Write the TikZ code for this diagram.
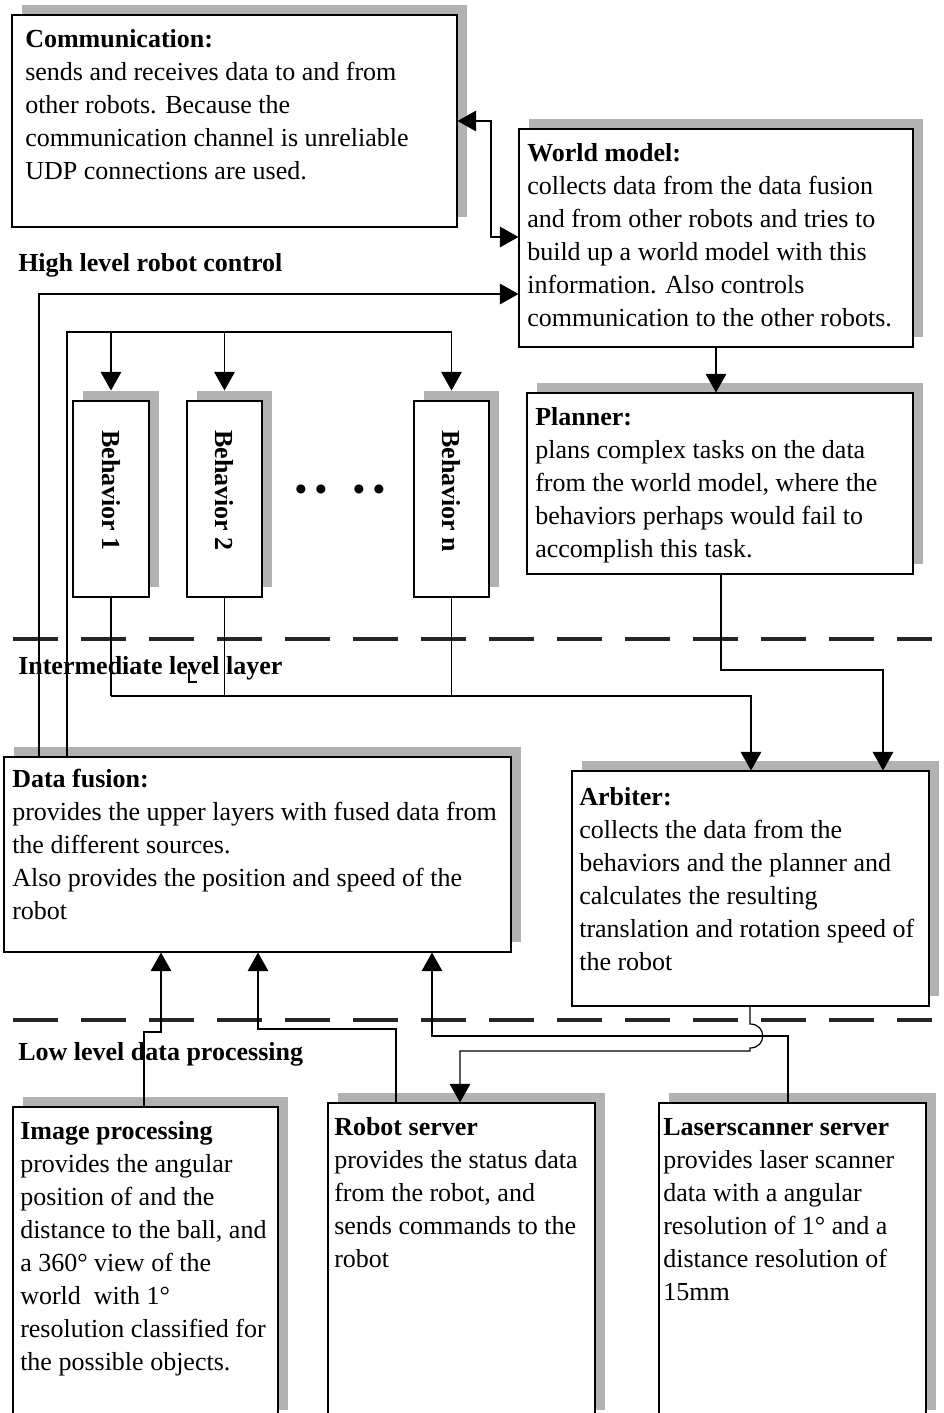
\documentclass[tikz,border=0pt]{standalone}
\usepackage{fontspec}
\setmainfont{Liberation Serif}
\usetikzlibrary{arrows.meta,fit,shadows}
\begin{document}
\begin{tikzpicture}[x=0.75pt,y=-0.75pt,
  box/.style={draw=black, line width=0.8pt, fill=white, inner sep=0pt,
    general shadow={fill=black!30, shadow xshift=7.5pt, shadow yshift=7.5pt}},
  txt/.style={inner sep=0pt, align=left, anchor=north west, font=\fontsize{19.5}{24.75}\selectfont},
  lbl/.style={inner sep=0pt, anchor=base west, font=\fontsize{19.5}{24.75}\selectfont\bfseries},
  vlbl/.style={inner sep=0pt, anchor=west, rotate=-90, font=\fontsize{19.5}{24.75}\selectfont\bfseries},
  dotlbl/.style={inner sep=0pt, font=\fontsize{25}{30}\selectfont\bfseries},
  con/.style={line width=0.9pt},
  sep/.style={line width=3pt, draw=black!85, dash pattern=on 33.75pt off 17.25pt},
  >={Triangle[length=14pt,width=15.5pt]}]
\useasboundingbox (0,0) rectangle (944,1413);
\clip (0,0) rectangle (944,1413);

% layer separators
\draw[sep] (13,639) -- (932,639);
\draw[sep] (13,1020) -- (932,1020);

% boxes
\node[box, fit={(12,15)(457,227)}] (comm) {};
\node[box, fit={(519,129)(913,347)}] (world) {};
\node[box, fit={(527,393)(913,574)}] (planner) {};
\node[box, fit={(73,401)(149,597)}] (b1) {};
\node[box, fit={(187,401)(262,597)}] (b2) {};
\node[box, fit={(414,401)(489,597)}] (bn) {};
\node[box, fit={(4,757)(511,952)}] (fusion) {};
\node[box, fit={(572,771)(929,1006)}] (arbiter) {};
\node[box, fit={(13,1107)(278,1420)}] (image) {};
\node[box, fit={(328,1103)(595,1420)}] (robot) {};
\node[box, fit={(659,1103)(926,1420)}] (laser) {};

% texts
\node[txt] (commt) at (25,24) {\strut\textbf{Communication:}\\sends and receives data to and from\\other robots. Because the\\communication channel is unreliable\\UDP connections are used.};
\node[txt] (worldt) at (527,138) {\strut\textbf{World model:}\\collects data from the data fusion\\and from other robots and tries to\\build up a world model with this\\information. Also controls\\communication to the other robots.};
\node[txt] (plannert) at (535,402) {\strut\textbf{Planner:}\\plans complex tasks on the data\\from the world model, where the\\behaviors perhaps would fail to\\accomplish this task.};
\node[txt] (fusiont) at (12,764) {\strut\textbf{Data fusion:}\\provides the upper layers with fused data from\\the different sources.\\Also provides the position and speed of the\\robot};
\node[txt] (arbitert) at (579,782) {\strut\textbf{Arbiter:}\\collects the data from the\\behaviors and the planner and\\calculates the resulting\\translation and rotation speed of\\the robot};
\node[txt] (imaget) at (20,1116) {\strut\textbf{Image processing}\\provides the angular\\position of and the\\distance to the ball, and\\a 360° view of the\\world\ \ with 1°\\resolution classified for\\the possible objects.};
\node[txt] (robott) at (334,1112) {\strut\textbf{Robot server}\\provides the status data\\from the robot, and\\sends commands to the\\robot};
\node[txt] (lasert) at (663,1112) {\strut\textbf{Laserscanner server}\\provides laser scanner\\data with a angular\\resolution of 1° and a\\distance resolution of\\15mm};

\node[vlbl] (b1t) at (111,430) {Behavior 1};
\node[vlbl] (b2t) at (224.5,430) {Behavior 2};
\node[vlbl] (bnt) at (451.5,430) {Behavior n};
\node[dotlbl] (dots1) at (311,493) {• •};
\node[dotlbl] (dots2) at (369,493) {• •};

\node[lbl] (high) at (18,271) {High level robot control};
\node[lbl] (inter) at (18,674) {Intermediate level layer};
\node[lbl] (low) at (18,1060) {Low level data processing};

% connectors
\begin{scope}[con]
\draw[<->] (comm.east |- 0,121) -- (491,121) -- (491,237) -- (world.west |- 0,237);
\draw[->] (fusion.north -| 39,0) -- (39,294) -- (world.west |- 0,294);
\draw (fusion.north -| 67,0) -- (67,332) -- (bn.north |- 0,332);
\draw[->] (b1.north |- 0,332) -- ([yshift=7.5pt]b1.north);
\draw[->] (b2.north |- 0,332) -- ([yshift=7.5pt]b2.north);
\draw[->] (bn.north |- 0,332) -- ([yshift=7.5pt]bn.north);
\draw[->] (world.south -| 716,0) -- (planner.north -| 716,0);
\draw (b1.south) -- (b1.south |- 0,696);
\draw (b2.south) -- (b2.south |- 0,696);
\draw (bn.south) -- (bn.south |- 0,696);
\draw[->] (b1.south |- 0,696) -- (751,696) -- (arbiter.north -| 751,0);
\draw[->] (planner.south -| 721,0) -- (721,670) -- (883,670) -- (arbiter.north -| 883,0);
\draw (189,669) -- (189,682) -- (197,682);
\draw[->] (arbiter.south -| 750,0) -- (750,1024) .. controls (767,1024) and (767,1048) .. (750,1048) -- (750,1051) -- (460,1051) -- (robot.north -| 460,0);
\draw[->] (laser.north -| 788,0) -- (788,1036) -- (432,1036) -- (fusion.south -| 432,0);
\draw[->] (robot.north -| 396,0) -- (396,1029) -- (258,1029) -- (fusion.south -| 258,0);
\draw[->] (image.north -| 144,0) -- (144,1032) -- (161,1032) -- (fusion.south -| 161,0);
\end{scope}
\end{tikzpicture}
\end{document}
